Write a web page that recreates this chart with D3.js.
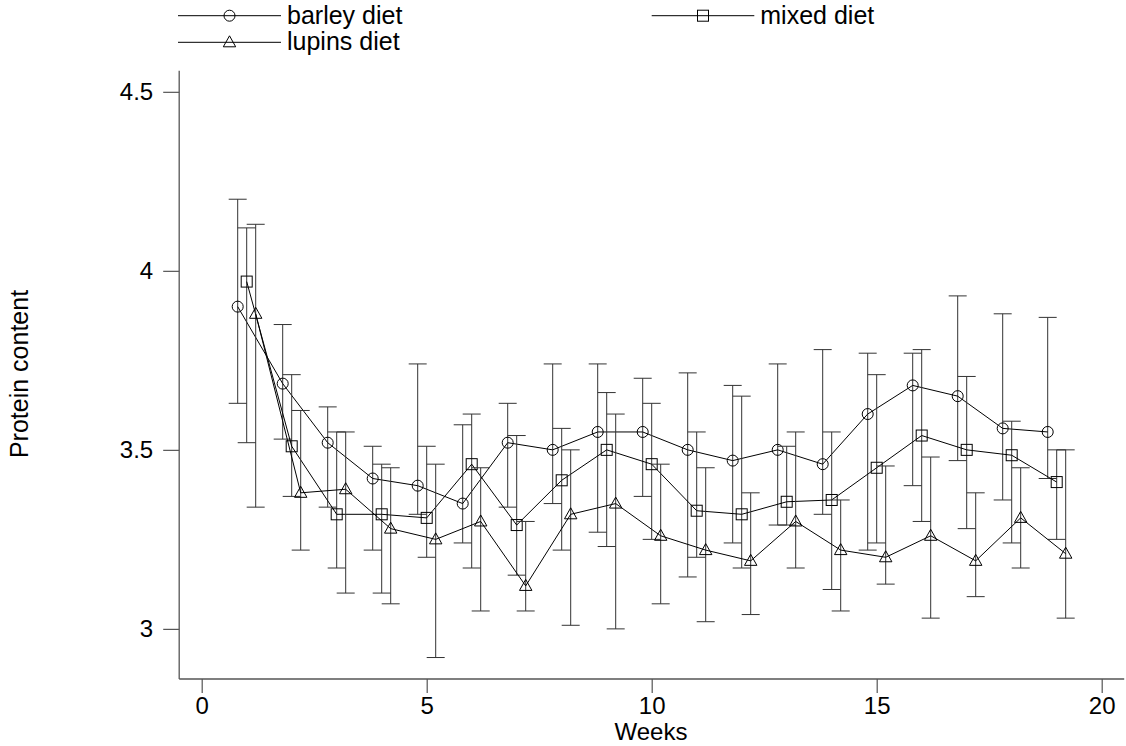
<!DOCTYPE html>
<html>
<head>
<meta charset="utf-8">
<script src="https://cdn.jsdelivr.net/npm/d3@7"></script>
<style>
  body { margin: 0; background: #fff; }
  svg text { font-family: "Liberation Sans", Arial, sans-serif; fill: #000; }
</style>
</head>
<body>
<svg id="chart" width="1126" height="746"></svg>
<script>
// data
let weeks = [1, 2, 3, 4, 5, 6, 7, 8, 9, 10, 11, 12, 13, 14, 15, 16, 17, 18, 19]

let barley   = [3.90, 3.685, 3.52, 3.42, 3.40, 3.35, 3.52, 3.50, 3.55, 3.55, 3.50, 3.47, 3.50, 3.46, 3.60, 3.68, 3.65, 3.56, 3.55]
let barleyLo = [3.63, 3.53, 3.34, 3.22, 3.32, 3.24, 3.34, 3.35, 3.27, 3.37, 3.145, 3.24, 3.29, 3.32, 3.22, 3.40, 3.47, 3.36, 3.42]
let barleyHi = [4.20, 3.85, 3.62, 3.51, 3.74, 3.57, 3.63, 3.74, 3.74, 3.70, 3.715, 3.68, 3.74, 3.78, 3.77, 3.77, 3.93, 3.88, 3.87]

let mixed   = [3.97, 3.51, 3.32, 3.32, 3.31, 3.46, 3.29, 3.415, 3.50, 3.46, 3.33, 3.32, 3.355, 3.36, 3.45, 3.54, 3.50, 3.485, 3.41]
let mixedLo = [3.52, 3.37, 3.17, 3.10, 3.20, 3.17, 3.15, 3.22, 3.23, 3.25, 3.20, 3.17, 3.29, 3.11, 3.24, 3.30, 3.28, 3.24, 3.25]
let mixedHi = [4.12, 3.71, 3.55, 3.46, 3.51, 3.60, 3.54, 3.56, 3.66, 3.63, 3.55, 3.65, 3.51, 3.55, 3.71, 3.78, 3.705, 3.58, 3.50]

let lupins   = [3.88, 3.38, 3.39, 3.28, 3.25, 3.30, 3.12, 3.32, 3.35, 3.26, 3.22, 3.19, 3.30, 3.22, 3.20, 3.26, 3.19, 3.31, 3.21]
let lupinsLo = [3.34, 3.22, 3.10, 3.07, 2.92, 3.05, 3.05, 3.01, 3.00, 3.07, 3.02, 3.04, 3.17, 3.05, 3.125, 3.03, 3.09, 3.17, 3.03]
let lupinsHi = [4.13, 3.61, 3.55, 3.45, 3.46, 3.45, 3.30, 3.50, 3.60, 3.46, 3.45, 3.38, 3.55, 3.36, 3.455, 3.48, 3.38, 3.45, 3.50]

let xTicks = [0, 5, 10, 15, 20]
let yTicks = [3, 3.5, 4, 4.5]

let series = [
    { name: "barley diet", shift: -0.2, mean: barley, lo: barleyLo, hi: barleyHi, shape: "circle" },
    { name: "mixed diet", shift: 0, mean: mixed, lo: mixedLo, hi: mixedHi, shape: "square" },
    { name: "lupins diet", shift: 0.2, mean: lupins, lo: lupinsLo, hi: lupinsHi, shape: "triangle" }
]

let svg = d3.select("#chart")

let xScale = d3.scaleLinear().domain([-0.5, 20.5]).range([179.2, 1124.2])
let yScale = d3.scaleLinear().domain([2.86, 4.559]).range([679, 70.7])

let axisColor = "#555"

// axes
let xAxis = svg.append("g")
    .attr("transform", "translate(0,679)")
    .call(d3.axisBottom(xScale).tickValues(xTicks).tickSize(14).tickPadding(4).tickFormat(d3.format("d")))
let yAxis = svg.append("g")
    .attr("transform", "translate(179.2,0)")
    .call(d3.axisLeft(yScale).tickValues(yTicks).tickSize(16).tickPadding(10).tickFormat(d => d))

;[xAxis, yAxis].forEach(function (g) {
    g.select(".domain").attr("stroke", axisColor).attr("stroke-width", 1.3)
    g.selectAll(".tick line").attr("stroke", axisColor).attr("stroke-width", 1.2)
    g.selectAll(".tick text").style("font-size", "24px").attr("fill", "#000")
})
// plain domain lines without end stubs
xAxis.select(".domain").attr("d", "M" + xScale.range()[0] + ",0H" + xScale.range()[1])
yAxis.select(".domain").attr("d", "M0," + yScale.range()[0] + "V" + yScale.range()[1])

// axis titles
svg.append("text")
    .attr("x", 651).attr("y", 740)
    .attr("text-anchor", "middle")
    .style("font-size", "24px")
    .text("Weeks")

svg.append("text")
    .attr("transform", "translate(28,374) rotate(-90)")
    .attr("text-anchor", "middle")
    .style("font-size", "25px")
    .text("Protein content")

// marker drawing
function marker(sel, shape) {
    if (shape == "circle") {
        sel.append("circle").attr("r", 5.5)
    } else if (shape == "square") {
        sel.append("rect").attr("x", -5.5).attr("y", -5.5).attr("width", 11).attr("height", 11)
    } else {
        sel.append("path").attr("d", "M0,-6.5L6.2,4.5L-6.2,4.5Z")
    }
    sel.selectAll("*").attr("fill", "none").attr("stroke", "#000").attr("stroke-width", 1)
}

let capHalf = 9

series.forEach(function (s) {
    let rows = weeks.map(function (w, i) {
        return { x: w + s.shift, mean: s.mean[i], lo: s.lo[i], hi: s.hi[i] }
    })

    let g = svg.append("g")

    // error bars
    let eb = g.selectAll(".eb").data(rows).enter().append("g")
        .attr("stroke", "#333").attr("stroke-width", 1)
    eb.append("line")
        .attr("x1", d => xScale(d.x)).attr("x2", d => xScale(d.x))
        .attr("y1", d => yScale(d.lo)).attr("y2", d => yScale(d.hi))
    eb.append("line")
        .attr("x1", d => xScale(d.x) - capHalf).attr("x2", d => xScale(d.x) + capHalf)
        .attr("y1", d => yScale(d.hi)).attr("y2", d => yScale(d.hi))
    eb.append("line")
        .attr("x1", d => xScale(d.x) - capHalf).attr("x2", d => xScale(d.x) + capHalf)
        .attr("y1", d => yScale(d.lo)).attr("y2", d => yScale(d.lo))

    // connecting line
    g.append("path")
        .datum(rows)
        .attr("fill", "none").attr("stroke", "#000").attr("stroke-width", 1)
        .attr("d", d3.line().x(d => xScale(d.x)).y(d => yScale(d.mean)))

    // markers
    g.selectAll(".pt").data(rows).enter().append("g")
        .attr("transform", d => "translate(" + xScale(d.x) + "," + yScale(d.mean) + ")")
        .each(function () { marker(d3.select(this), s.shape) })
})

// legend
let legendPos = [
    { x1: 178, x2: 281, y: 15.7 },
    { x1: 651.7, x2: 754.3, y: 15.7 },
    { x1: 178, x2: 281, y: 42.3 }
]
series.forEach(function (s, i) {
    let p = legendPos[i]
    let lg = svg.append("g")
    lg.append("line")
        .attr("x1", p.x1).attr("x2", p.x2).attr("y1", p.y).attr("y2", p.y)
        .attr("stroke", "#000").attr("stroke-width", 1)
    let m = lg.append("g").attr("transform", "translate(" + ((p.x1 + p.x2) / 2) + "," + p.y + ")")
    marker(m, s.shape)
    lg.append("text")
        .attr("x", p.x2 + 6).attr("y", p.y + 8)
        .style("font-size", "25px")
        .text(s.name)
})
</script>
</body>
</html>
